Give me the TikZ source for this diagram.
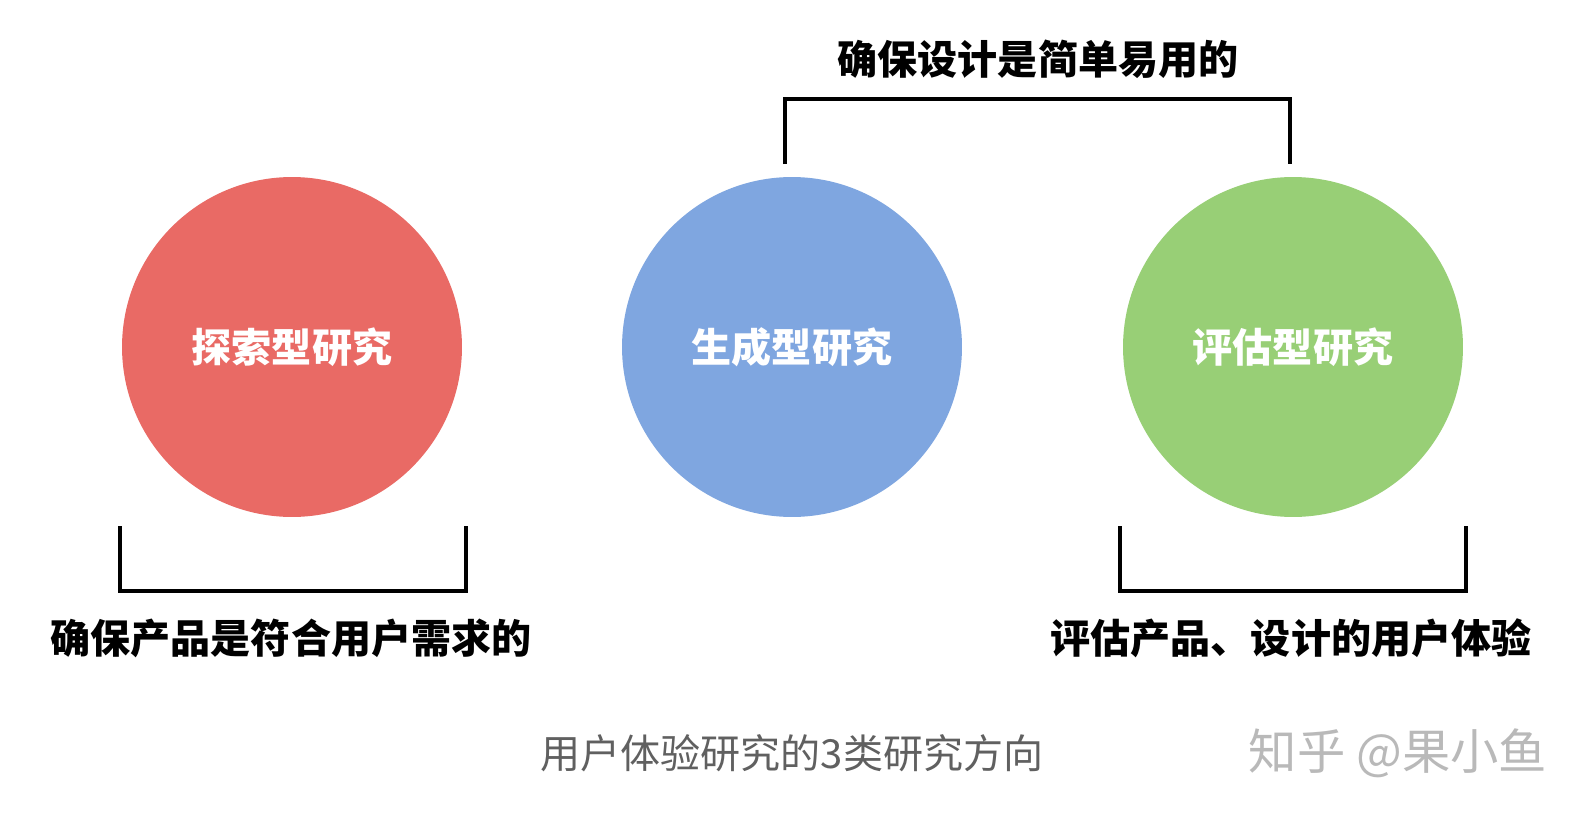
\documentclass[tikz,border=0pt]{standalone}
\usepackage{fontspec}
\setmainfont{Noto Sans CJK SC}
\usetikzlibrary{positioning}
\definecolor{ExploreRed}{RGB}{233,106,101}
\definecolor{GenerateBlue}{RGB}{127,166,224}
\definecolor{EvalGreen}{RGB}{152,207,118}
\definecolor{CaptionGray}{RGB}{96,96,96}
\definecolor{MarkGray}{RGB}{185,185,185}
\tikzset{
  circ/.style={circle,draw=none,minimum size=6.8cm,inner sep=0pt,text=white,
    font=\fontsize{22.8}{26}\selectfont\bfseries},
  bracket/.style={line width=2.3pt,draw=black,line join=miter},
  note/.style={inner sep=0pt,font=\fontsize{22.8}{26}\selectfont\bfseries},
  caption/.style={inner sep=0pt,text=CaptionGray,font=\fontsize{22.8}{26}\selectfont}
}

\begin{document}
\begin{tikzpicture}[x=0.02cm,y=-0.02cm]
  \useasboundingbox (0,0) rectangle (1586,818);
  \fill[white] (0,0) rectangle (1586,818);
  % the three research circles
  \node[circ,fill=ExploreRed] (explore) at (292,347) {探索型研究};
  \node[circ,fill=GenerateBlue] (generate) at (792,347) {生成型研究};
  \node[circ,fill=EvalGreen] (evaluate) at (1293,347) {评估型研究};
  % bracket corners
  \coordinate (topleft) at (785,99);
  \coordinate (topright) at (1290,164);
  \coordinate (redleft) at (120,526);
  \coordinate (redright) at (466,591);
  \coordinate (greenleft) at (1120,526);
  \coordinate (greenright) at (1466,591);
  \draw[bracket] (topleft |- topright) -- (topleft) -- (topright |- topleft) -- (topright);
  \draw[bracket] (redleft) -- (redleft |- redright) -- (redright) -- (redright |- redleft);
  \draw[bracket] (greenleft) -- (greenleft |- greenright) -- (greenright) -- (greenright |- greenleft);
  % bracket texts
  \node[note] (simple) at (1038,59) {确保设计是简单易用的};
  \node[note] (needs) at (291,638) {确保产品是符合用户需求的};
  \node[note] (experience) at (1291,638) {评估产品、设计的用户体验};
  % caption and mark
  \node[caption] (title) at (792,753) {用户体验研究的3类研究方向};
  \node[caption,text=MarkGray,font=\fontsize{27.5}{30}\selectfont] (mark) at (1398,753) {知乎 @果小鱼};
\end{tikzpicture}
\end{document}
